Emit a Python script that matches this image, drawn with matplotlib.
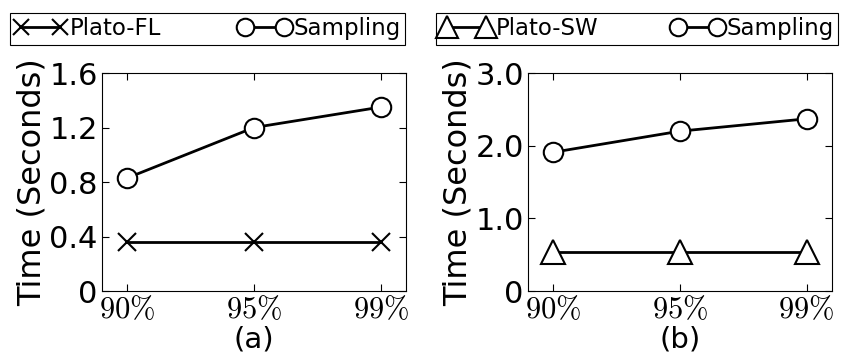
import numpy as np
import matplotlib
matplotlib.use("Agg")
import matplotlib.pyplot as plt

plt.rcParams['mathtext.fontset'] = 'cm'
plt.rcParams['font.family'] = ['DejaVu Sans']

conf = [r'$90\%$', r'$95\%$', r'$99\%$']
plato_fl = [0.36, 0.36, 0.36]
sampling_a = [0.83, 1.20, 1.35]
plato_sw = [0.54, 0.54, 0.54]
sampling_b = [1.91, 2.20, 2.37]

fig = plt.figure(figsize=(8.46, 3.58), dpi=100)
ax1 = fig.add_axes([0.1206, 0.187, 0.3593, 0.609])
ax2 = fig.add_axes([0.624, 0.187, 0.3593, 0.609])

x = np.arange(len(conf))


def style(ax, yticks, ylabels, sub):
    ax.set_xlim(-0.2, 2.2)
    ax.set_xticks(x)
    ax.set_xticklabels(conf, fontsize=22)
    ax.set_yticks(yticks)
    ax.set_yticklabels(ylabels, fontsize=22)
    ax.set_ylim(yticks[0], yticks[-1])
    ax.tick_params(direction='in', top=True, right=True, length=5, width=0.8, pad=3)
    ax.set_ylabel('Time (Seconds)', fontsize=23, labelpad=1)
    ax.set_xlabel(sub, fontsize=21, labelpad=1)


ax1.plot(x, plato_fl, color='k', lw=2, marker='x', ms=13, mew=1.5, label='Plato-FL')
ax1.plot(x, sampling_a, color='k', lw=2, marker='o', ms=14, mfc='white', mew=1.5, label='Sampling')
style(ax1, [0, 0.4, 0.8, 1.2, 1.6], ['0', '0.4', '0.8', '1.2', '1.6'], '(a)')

ax2.plot(x, plato_sw, color='k', lw=2, marker='^', ms=17, mfc='white', mew=1.5, label='Plato-SW')
ax2.plot(x, sampling_b, color='k', lw=2, marker='o', ms=14, mfc='white', mew=1.5, label='Sampling')
style(ax2, [0, 1.0, 2.0, 3.0], ['0', '1.0', '2.0', '3.0'], '(b)')

for ax, x0, w in [(ax1, 10 / 846, 395 / 846), (ax2, 436 / 846, 402 / 846)]:
    leg = ax.legend(loc='center', ncol=2, mode='expand', numpoints=2,
                    bbox_to_anchor=(x0, 0.874, w, 0.092), bbox_transform=fig.transFigure,
                    fontsize=16.5, handlelength=2.3, handletextpad=0.1, borderpad=0.2,
                    borderaxespad=0, columnspacing=1.0, fancybox=False, framealpha=1,
                    markerscale=0.9)
    leg.get_frame().set_edgecolor('k')
    leg.get_frame().set_linewidth(0.8)

fig.savefig('out.png', dpi=100)
